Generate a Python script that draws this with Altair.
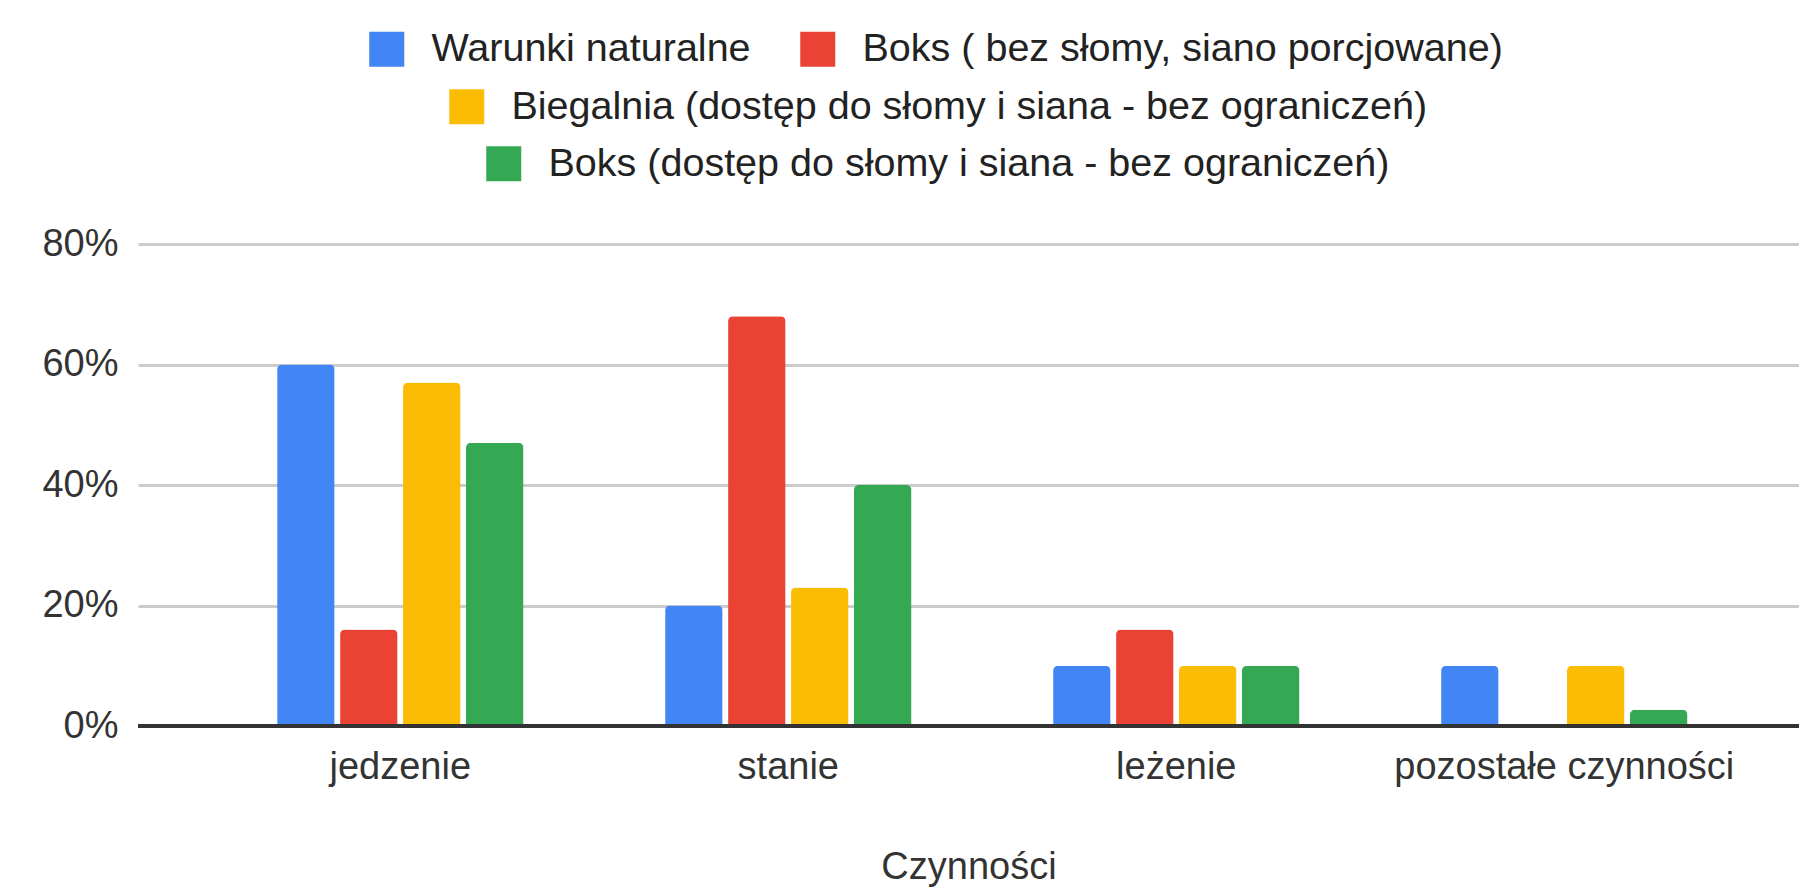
import altair as alt
import pandas as pd

categories = ["jedzenie", "stanie", "leżenie", "pozostałe czynności"]
series = [
    "Warunki naturalne",
    "Boks ( bez słomy, siano porcjowane)",
    "Biegalnia (dostęp do słomy i siana - bez ograniczeń)",
    "Boks (dostęp do słomy i siana - bez ograniczeń)",
]
warunki_naturalne = [60, 20, 10, 10]
boks_porcjowane = [16, 68, 16, 0]
biegalnia = [57, 23, 10, 10]
boks_dostep = [47, 40, 10, 2.7]
colors = ["#4285F4", "#EA4335", "#FBBC04", "#34A853"]
y_ticks = [0, 20, 40, 60, 80]

rows = []
for s, vals in zip(series, [warunki_naturalne, boks_porcjowane, biegalnia, boks_dostep]):
    for c, v in zip(categories, vals):
        rows.append({"kat": c, "seria": s, "wartosc": v})
df = pd.DataFrame(rows)

FONT = "Liberation Sans, Arial, sans-serif"
FS = 38
LFS = 39.5

x_enc = alt.X(
    "kat:N",
    sort=categories,
    scale=alt.Scale(domain=categories, paddingInner=0.365, paddingOuter=0.323, align=0.555),
    axis=alt.Axis(
        title="Czynności", labelAngle=0, ticks=False, domain=False, grid=False,
        labelFont=FONT, labelFontSize=FS, labelColor="#333", labelLimit=0,
        labelBaseline="alphabetic", labelPadding=52,
        titleFont=FONT, titleFontSize=FS, titleFontWeight="normal", titleColor="#333",
        titleBaseline="alphabetic", titleY=152,
    ),
)
xoff_enc = alt.XOffset(
    "seria:N", sort=series,
    scale=alt.Scale(domain=series, paddingInner=0.087, paddingOuter=0),
)
y_enc = alt.Y(
    "wartosc:Q",
    scale=alt.Scale(domain=[0, 80], nice=False),
    axis=alt.Axis(
        title=None, values=y_ticks, labelExpr="datum.value + '%'",
        ticks=False, domain=False, gridColor="#cccccc", gridWidth=3,
        labelFont=FONT, labelFontSize=FS, labelColor="#333", labelPadding=20,
    ),
)


def bars(idx, lx, ly):
    subset = [series[i] for i in idx]
    cols = [colors[i] for i in idx]
    return alt.Chart(df).transform_filter(
        alt.FieldOneOfPredicate(field="seria", oneOf=subset)
    ).mark_bar(cornerRadiusTopLeft=5, cornerRadiusTopRight=5).encode(
        x=x_enc,
        xOffset=xoff_enc,
        y=y_enc,
        color=alt.Color(
            "seria:N", sort=subset,
            scale=alt.Scale(domain=subset, range=cols),
            legend=alt.Legend(
                title=None, orient="none", legendX=lx, legendY=ly,
                direction="horizontal", symbolType="square", symbolSize=1225,
                symbolStrokeWidth=0, labelFont=FONT, labelFontSize=LFS,
                labelColor="#222", labelOffset=25, columnPadding=47,
                padding=0, labelLimit=0,
            ),
        ),
    )


zero_rule = alt.Chart(df).mark_rule(color="#333333", strokeWidth=3.5).encode(y=alt.datum(0))

chart = alt.layer(
    bars([0, 1], 229, -215),
    bars([2], 309, -157),
    bars([3], 346, -100),
    zero_rule,
).resolve_scale(color="independent").properties(
    width=1661,
    height=482,
    autosize=alt.AutoSizeParams(type="none"),
    padding={"left": 130, "top": 236, "right": 0, "bottom": 161},
    background="white",
).configure_view(stroke=None)

chart.save("out.html", embed_options={"renderer": "svg", "actions": False})
